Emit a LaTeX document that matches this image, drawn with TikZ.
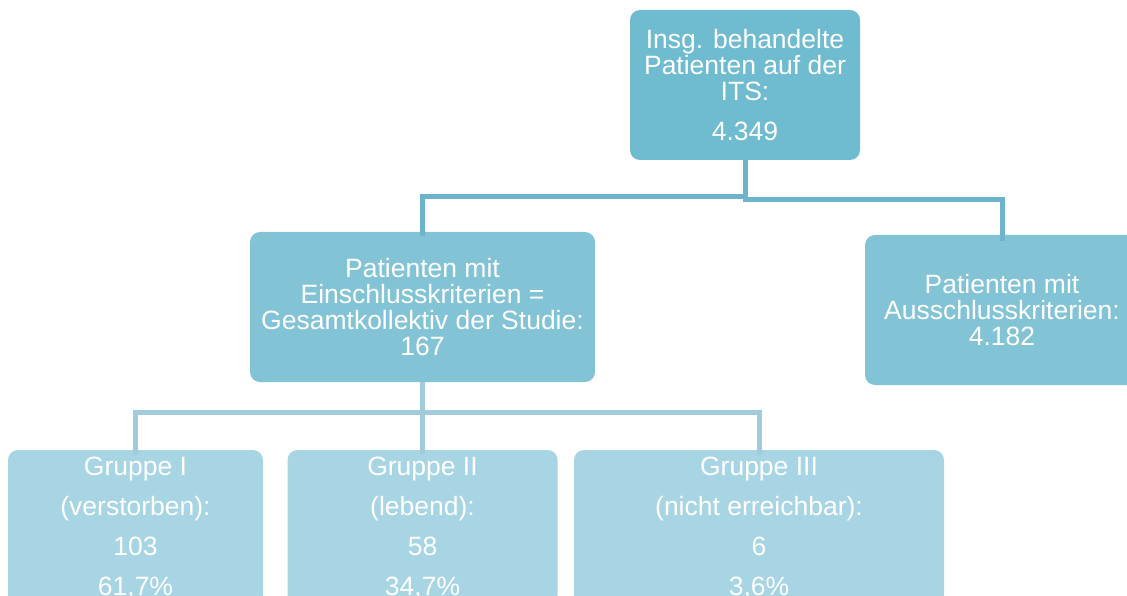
\documentclass[tikz,border=0pt]{standalone}
\usepackage{fontspec}
\setmainfont{Liberation Sans}
\definecolor{topc}{HTML}{6FBBD0}
\definecolor{midc}{HTML}{82C4D6}
\definecolor{lowc}{HTML}{A7D5E3}
\definecolor{lineA}{HTML}{6CB4CB}
\definecolor{lineB}{HTML}{A2CCDC}
\tikzset{
  box/.style={rounded corners=10pt, text=white, align=center, inner sep=0pt},
  upper/.style={box, font=\fontsize{26.5}{26}\selectfont},
  lower/.style={box, font=\fontsize{26.5}{40}\selectfont},
  connA/.style={draw=lineA, line width=5pt},
  connB/.style={draw=lineB, line width=5pt}
}
\begin{document}
\begin{tikzpicture}[x=1pt,y=-1pt]
\useasboundingbox (0,0) rectangle (1127,596);
\clip (0,0) rectangle (1127,596);
\node[upper, fill=topc, minimum width=230pt, minimum height=150pt] (top) at (745,85)
  {Insg. behandelte\\Patienten auf der\\ITS:\\[14pt]4.349};
\node[upper, fill=midc, minimum width=345pt, minimum height=150pt] (incl) at (422.5,307)
  {Patienten mit\\Einschlusskriterien =\\Gesamtkollektiv der Studie:\\167};
\node[upper, fill=midc, minimum width=274pt, minimum height=150pt] (excl) at (1002,310)
  {Patienten mit\\Ausschlusskriterien:\\4.182};
\node[lower, fill=lowc, minimum width=255pt, minimum height=155pt] (g1) at (135.5,527.5)
  {Gruppe I\\(verstorben):\\103\\61,7\%};
\node[lower, fill=lowc, minimum width=270pt, minimum height=155pt] (g2) at (422.5,527.5)
  {Gruppe II\\(lebend):\\58\\34,7\%};
\node[lower, fill=lowc, minimum width=370pt, minimum height=155pt] (g3) at (759,527.5)
  {Gruppe III\\(nicht erreichbar):\\6\\3,6\%};
\coordinate (jA) at (745,197);
\coordinate (jA2) at (745,200);
\draw[connA] (top.south) -- (jA) -| ([yshift=-4pt]incl.north);
\draw[connA] (top.south) -- (jA2) -| ([yshift=-6pt]excl.north);
\coordinate (jB) at (422.5,412);
\draw[connB] (incl.south) -- (jB) -| ([yshift=-5pt]g1.north);
\draw[connB] (jB) -- ([yshift=-5pt]g2.north);
\draw[connB] (jB) -| ([yshift=-5pt]g3.north);
\end{tikzpicture}
\end{document}
